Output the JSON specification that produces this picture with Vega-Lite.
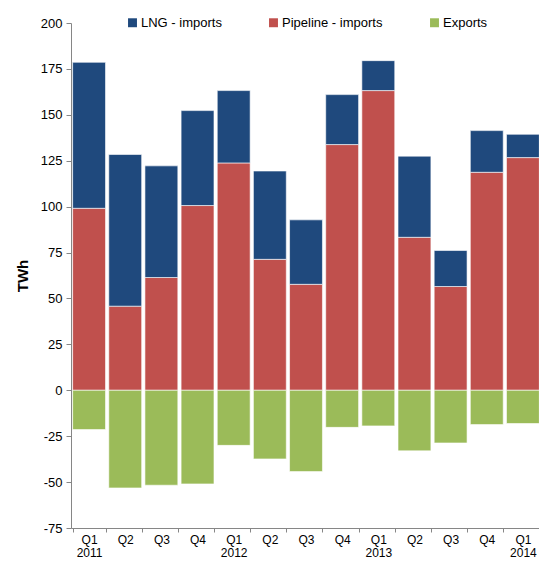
{
  "$schema": "https://vega.github.io/schema/vega-lite/v6.json",
  "autosize": "none",
  "width": 470,
  "height": 505,
  "padding": {"left": 71, "top": 23, "right": 0, "bottom": 34},
  "config": {
    "font": "Liberation Sans",
    "view": {"stroke": null},
    "axis": {"grid": false, "domainColor": "#868686", "tickColor": "#868686", "labelColor": "#000000", "labelFontSize": 13, "labelFont": "Liberation Sans"}
  },
  "data": {
    "values": [
      {"q": "Q1|2011", "s": "Pipeline - imports", "v": 99.1},
      {"q": "Q1|2011", "s": "LNG - imports", "v": 79.5},
      {"q": "Q1|2011", "s": "Exports", "v": -21.4},
      {"q": "Q2|2011", "s": "Pipeline - imports", "v": 45.8},
      {"q": "Q2|2011", "s": "LNG - imports", "v": 82.6},
      {"q": "Q2|2011", "s": "Exports", "v": -53.2},
      {"q": "Q3|2011", "s": "Pipeline - imports", "v": 61.4},
      {"q": "Q3|2011", "s": "LNG - imports", "v": 60.8},
      {"q": "Q3|2011", "s": "Exports", "v": -51.7},
      {"q": "Q4|2011", "s": "Pipeline - imports", "v": 100.6},
      {"q": "Q4|2011", "s": "LNG - imports", "v": 51.7},
      {"q": "Q4|2011", "s": "Exports", "v": -51.0},
      {"q": "Q1|2012", "s": "Pipeline - imports", "v": 123.8},
      {"q": "Q1|2012", "s": "LNG - imports", "v": 39.4},
      {"q": "Q1|2012", "s": "Exports", "v": -30.0},
      {"q": "Q2|2012", "s": "Pipeline - imports", "v": 71.3},
      {"q": "Q2|2012", "s": "LNG - imports", "v": 48.1},
      {"q": "Q2|2012", "s": "Exports", "v": -37.4},
      {"q": "Q3|2012", "s": "Pipeline - imports", "v": 57.7},
      {"q": "Q3|2012", "s": "LNG - imports", "v": 35.1},
      {"q": "Q3|2012", "s": "Exports", "v": -44.3},
      {"q": "Q4|2012", "s": "Pipeline - imports", "v": 133.8},
      {"q": "Q4|2012", "s": "LNG - imports", "v": 27.2},
      {"q": "Q4|2012", "s": "Exports", "v": -20.2},
      {"q": "Q1|2013", "s": "Pipeline - imports", "v": 163.2},
      {"q": "Q1|2013", "s": "LNG - imports", "v": 16.3},
      {"q": "Q1|2013", "s": "Exports", "v": -19.4},
      {"q": "Q2|2013", "s": "Pipeline - imports", "v": 83.3},
      {"q": "Q2|2013", "s": "LNG - imports", "v": 44.2},
      {"q": "Q2|2013", "s": "Exports", "v": -33.0},
      {"q": "Q3|2013", "s": "Pipeline - imports", "v": 56.5},
      {"q": "Q3|2013", "s": "LNG - imports", "v": 19.6},
      {"q": "Q3|2013", "s": "Exports", "v": -28.7},
      {"q": "Q4|2013", "s": "Pipeline - imports", "v": 118.7},
      {"q": "Q4|2013", "s": "LNG - imports", "v": 22.7},
      {"q": "Q4|2013", "s": "Exports", "v": -18.7},
      {"q": "Q1|2014", "s": "Pipeline - imports", "v": 126.7},
      {"q": "Q1|2014", "s": "LNG - imports", "v": 12.7},
      {"q": "Q1|2014", "s": "Exports", "v": -18.1}
    ]
  },
  "transform": [
    {"calculate": "datum.s === 'Pipeline - imports' ? 0 : datum.s === 'LNG - imports' ? 1 : 2", "as": "ord"}
  ],
  "mark": {"type": "bar", "stroke": "#ffffff", "strokeWidth": 1, "strokeOpacity": 0.6},
  "encoding": {
    "x": {
      "field": "q", "type": "nominal", "sort": null,
      "scale": {"paddingInner": 0.09, "paddingOuter": 0.045},
      "axis": {
        "title": null, "labelAngle": 0, "tickBand": "extent", "tickSize": 4, "labelPadding": 2,
        "labelFontSize": 12,
        "labelExpr": "indexof(datum.label, 'Q1') === 0 ? split(datum.label, '|') : split(datum.label, '|')[0]",
        "labelLineHeight": 13.5
      }
    },
    "y": {
      "field": "v", "type": "quantitative", "stack": "zero",
      "scale": {"domain": [-75, 200], "nice": false},
      "axis": {
        "title": "TWh", "titleFontSize": 15, "titleFontWeight": "bold", "titleColor": "#000000", "titlePadding": 10,
        "values": [-75, -50, -25, 0, 25, 50, 75, 100, 125, 150, 175, 200],
        "labelExpr": "replace(datum.label, '−', '-')",
        "tickSize": 5, "labelPadding": 4
      }
    },
    "color": {
      "field": "s", "type": "nominal",
      "scale": {"domain": ["LNG - imports", "Pipeline - imports", "Exports"], "range": ["#1F497D", "#C0504D", "#9BBB59"]},
      "legend": {
        "title": null, "orient": "none", "direction": "horizontal", "legendX": 55, "legendY": -7,
        "symbolType": "square", "symbolSize": 80, "symbolStrokeWidth": 0, "labelFontSize": 13, "labelOffset": 2,
        "columnPadding": 45, "labelColor": "#000000"
      }
    },
    "order": {"field": "ord", "type": "quantitative"}
  }
}
